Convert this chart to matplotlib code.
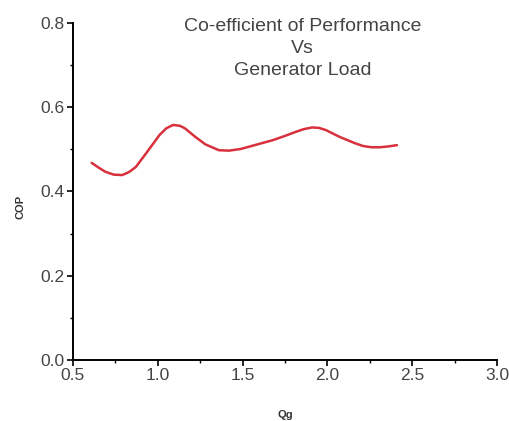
import matplotlib
matplotlib.use("Agg")
import matplotlib.pyplot as plt
from matplotlib.ticker import MultipleLocator

plt.rcParams['font.family'] = ['Liberation Sans', 'DejaVu Sans']

# values
qg = [0.61, 0.65, 0.69, 0.74, 0.79, 0.83, 0.87, 0.93, 0.97, 1.01, 1.05, 1.09,
      1.13, 1.16, 1.22, 1.28, 1.36, 1.42, 1.49, 1.58, 1.68, 1.75, 1.81, 1.86,
      1.91, 1.95, 1.99, 2.07, 2.16, 2.21, 2.26, 2.31, 2.36, 2.41]
cop = [0.468, 0.457, 0.447, 0.440, 0.439, 0.446, 0.458, 0.490, 0.512, 0.534,
       0.550, 0.558, 0.556, 0.550, 0.530, 0.512, 0.498, 0.497, 0.501, 0.511,
       0.522, 0.532, 0.541, 0.548, 0.552, 0.551, 0.546, 0.530, 0.515, 0.508,
       0.505, 0.505, 0.507, 0.510]

title_lines = ["Co-efficient of Performance", "Vs", "Generator Load"]

fig = plt.figure(figsize=(5.09, 4.21), dpi=100)
ax = fig.add_axes([0.1434, 0.1449, 0.8330, 0.8005])

ax.plot(qg, cop, color='#d8303c', lw=1.8, solid_capstyle='round',
        solid_joinstyle='round')

ax.set_xlim(0.5, 3.0)
ax.set_ylim(0.0, 0.8)
ax.xaxis.set_major_locator(MultipleLocator(0.5))
ax.xaxis.set_minor_locator(MultipleLocator(0.25))
ax.yaxis.set_major_locator(MultipleLocator(0.2))
ax.yaxis.set_minor_locator(MultipleLocator(0.1))
ax.xaxis.set_major_formatter(lambda v, p: '%.1f' % v)
ax.yaxis.set_major_formatter(lambda v, p: '%.1f' % v)

for s in ['top', 'right']:
    ax.spines[s].set_visible(False)
for s in ['left', 'bottom']:
    ax.spines[s].set_linewidth(1.4)

ax.tick_params(which='major', direction='out', length=4, width=1.2,
               labelsize=12.5, labelcolor='#444444', pad=2)
ax.tick_params(which='minor', direction='out', length=2.5, width=1.0)

ax.set_xlabel('Qg', fontsize=8, fontweight='bold', color='#333333')
ax.set_ylabel('COP', fontsize=8, fontweight='bold', color='#333333')
ax.xaxis.set_label_coords(0.5, -0.147)
ax.yaxis.set_label_coords(-0.113, 0.454)

ax.text(0.542, 1.015, "\n".join(title_lines), transform=ax.transAxes,
        ha='center', va='top', fontsize=14, color='#444444', linespacing=1.4)

fig.savefig('out.png', dpi=100)
